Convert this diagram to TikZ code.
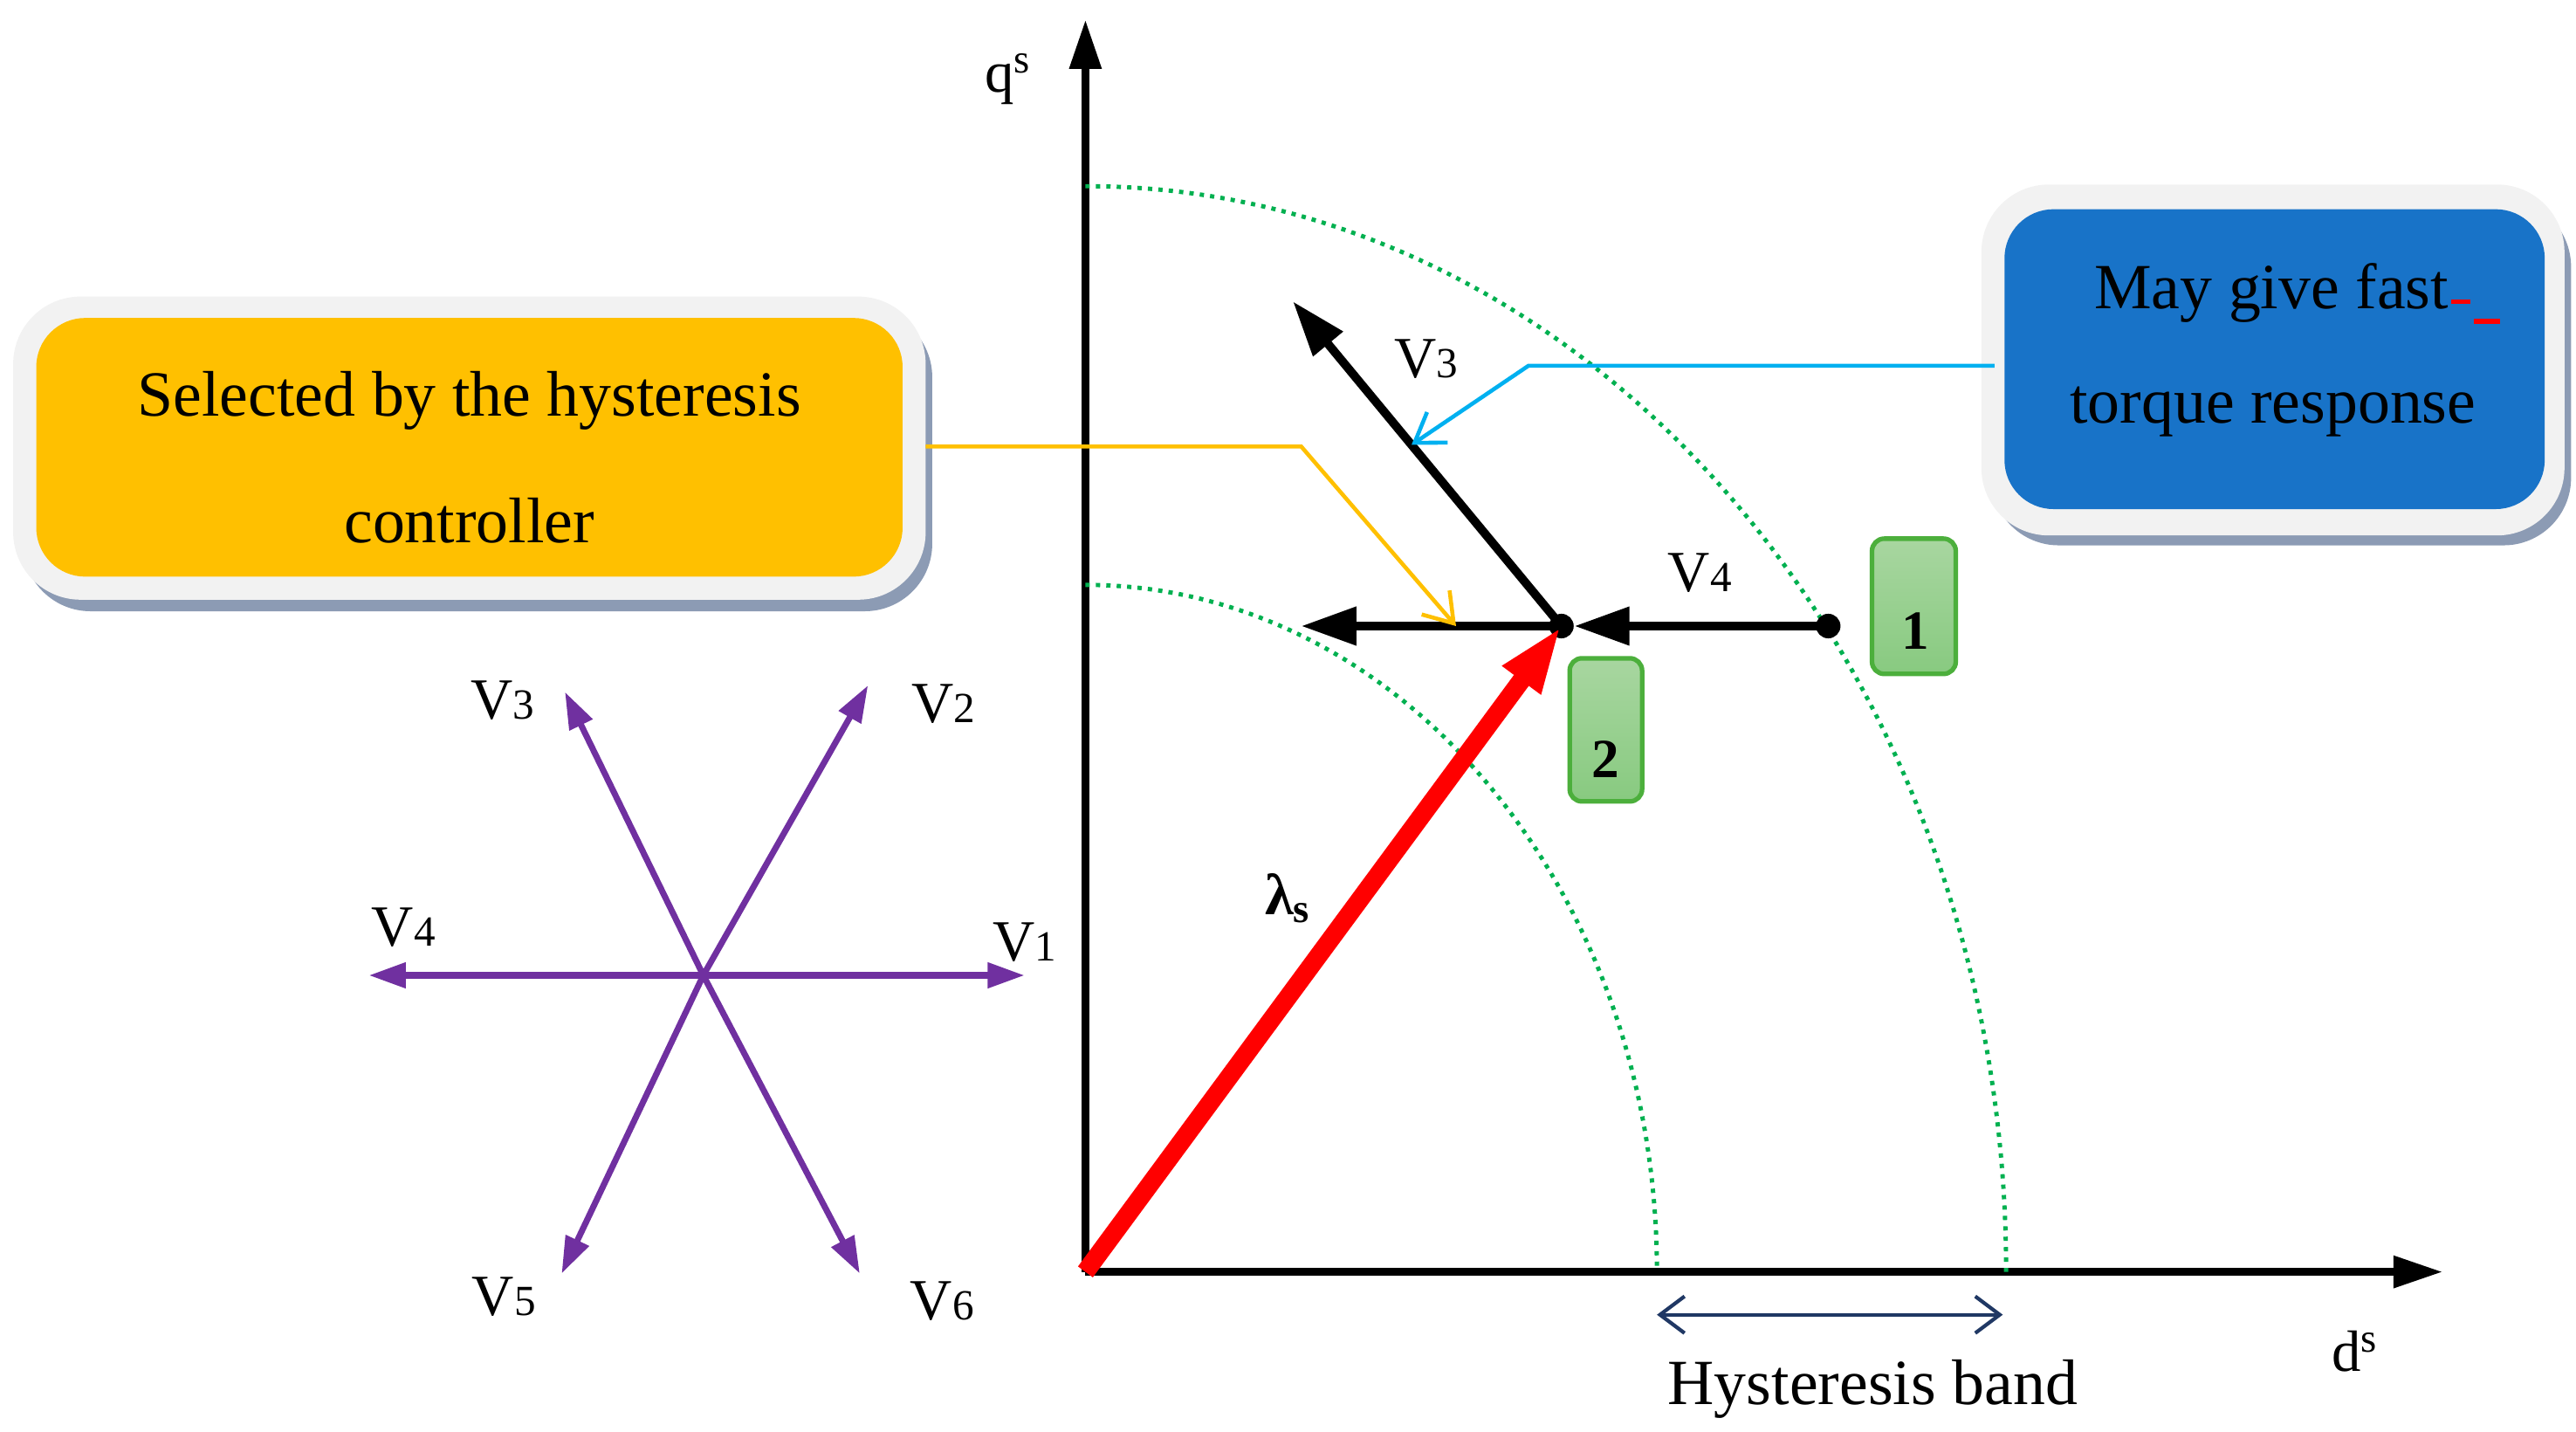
\documentclass[tikz,border=0pt]{standalone}
\usepackage{fontspec}
\setmainfont{Liberation Serif}
\usetikzlibrary{arrows.meta}
\definecolor{vio}{RGB}{112,48,160}
\definecolor{dgreen}{RGB}{0,176,80}
\definecolor{ylw}{RGB}{255,192,0}
\definecolor{blu}{RGB}{24,115,200}
\definecolor{cyanl}{RGB}{0,176,240}
\definecolor{navy}{RGB}{32,56,100}
\definecolor{shad}{RGB}{140,155,180}
\definecolor{lgray}{RGB}{242,242,242}
\begin{document}
\begin{tikzpicture}[x=0.01887cm,y=-0.01887cm,
  lbl/.style={font=\fontsize{19}{22}\selectfont},
  txt/.style={font=\fontsize{21}{24}\selectfont},
  axis/.style={line width=2.5pt,-{Triangle[length=16pt,width=10pt]}},
  vec/.style={line width=2.8pt,-{Triangle[length=18pt,width=12pt]}},
  star/.style={vio,line width=2pt,-{Triangle[length=12pt,width=8pt]}},
  arc/.style={dgreen,line width=1.4pt,dotted},
  gbox/.style={draw={rgb,255:red,76;green,175;blue,60},line width=1.5pt,rounded corners=4pt,top color={rgb,255:red,168;green,214;blue,160},bottom color={rgb,255:red,136;green,202;blue,128}},
  dot/.style={circle,fill=black,inner sep=0pt,minimum size=8pt}]
\useasboundingbox (0,0) rectangle (1564,869);
% axes
\coordinate (O) at (659,772);
\coordinate (qt) at (659,12);
\coordinate (dt) at (1483,772);
\draw[axis] (O) -- (qt);
\draw[axis] (O) -- (dt);
\node[lbl] (qs) at (612,48) {q\textsuperscript{s}};
\node[lbl] (ds) at (1430,820) {d\textsuperscript{s}};
% arcs
\draw[arc] (659,113) arc[start angle=90,end angle=0,x radius=559,y radius=-659];
\draw[arc] (659,355) arc[start angle=90,end angle=0,x radius=347,y radius=-417];
% vectors
\node[dot] (P) at (948,380) {};
\node[dot] (Q) at (1110,380) {};
\coordinate (v3e) at (785,183);
\coordinate (le) at (790,380);
\draw[red,line width=6pt,-{Triangle[length=22pt,width=14pt]}] (O) -- (P.center);
\draw[vec] (P.center) -- (v3e);
\draw[vec] (P.center) -- (le);
\draw[vec] (Q.center) -- (P.east);
\node[lbl] (v3l) at (866,218) {V{\fontsize{14}{16}\selectfont 3}};
\node[lbl] (v4l) at (1032,348) {V{\fontsize{14}{16}\selectfont 4}};
\node[font=\fontsize{19}{22}\selectfont\bfseries] (lam) at (782,545) {λ\textsubscript{s}};
% green boxes
\node[gbox,minimum width=0.96cm,minimum height=1.55cm] (b1) at (1162,368) {};
\node[font=\fontsize{18}{20}\selectfont\bfseries] at (1163,383) {1};
\node[gbox,minimum width=0.83cm,minimum height=1.64cm] (b2) at (975,443) {};
\node[font=\fontsize{18}{20}\selectfont\bfseries] at (975,461) {2};
% hysteresis band
\coordinate (h1) at (1006,798);
\coordinate (h2) at (1216,798);
\draw[navy,line width=1.2pt,{Straight Barb[length=8pt,width=12pt]}-{Straight Barb[length=8pt,width=12pt]}] (h1) -- (h2);
\node[txt] (hb) at (1137,843) {Hysteresis band};
% yellow callout
\fill[shad,rounded corners=22pt] (14,188) rectangle (566,371);
\fill[lgray,rounded corners=22pt] (8,180) rectangle (562,364);
\fill[ylw,rounded corners=16pt] (22,193) rectangle (548,350);
\node[txt] (y1) at (285,243) {Selected by the hysteresis};
\node[txt] (y2) at (285,316) {controller};
\coordinate (ya) at (562,271);
\coordinate (yb) at (790,271);
\coordinate (yc) at (884,380);
\draw[ylw,line width=1.3pt,-{Straight Barb[length=9pt,width=12pt]}] (ya) -- (yb) -- (yc);
% blue callout
\fill[shad,rounded corners=22pt] (1209,121) rectangle (1561,331);
\fill[lgray,rounded corners=22pt] (1203,112) rectangle (1557,325);
\fill[blu,rounded corners=16pt] (1217,127) rectangle (1545,309);
\node[txt,anchor=east,inner sep=0pt] (b1t) at (1487,178) {May give fast};
\draw[red,line width=1.5pt] (1488,183) -- (1500,183);
\draw[red,line width=1.5pt] (1502,195) -- (1518,195);
\node[txt] (b2t) at (1380,250) {torque response};
\coordinate (ba) at (1211,222);
\coordinate (bb) at (928,222);
\coordinate (bc) at (857,270);
\draw[cyanl,line width=1.3pt,-{Straight Barb[length=9pt,width=12pt]}] (ba) -- (bb) -- (bc);
% star
\coordinate (C) at (427,592);
\coordinate (s1) at (622,592);
\coordinate (s2) at (527,416);
\coordinate (s3) at (343,420);
\coordinate (s4) at (224,592);
\coordinate (s5) at (341,773);
\coordinate (s6) at (522,773);
\foreach \s in {s1,s2,s3,s4,s5,s6} \draw[star] (C) -- (\s);
\node[lbl] at (622,572) {V{\fontsize{14}{16}\selectfont 1}};
\node[lbl] at (573,427) {V{\fontsize{14}{16}\selectfont 2}};
\node[lbl] at (305,425) {V{\fontsize{14}{16}\selectfont 3}};
\node[lbl] at (245,563) {V{\fontsize{14}{16}\selectfont 4}};
\node[lbl] at (306,787) {V{\fontsize{14}{16}\selectfont 5}};
\node[lbl] at (572,790) {V{\fontsize{14}{16}\selectfont 6}};
\end{tikzpicture}
\end{document}
